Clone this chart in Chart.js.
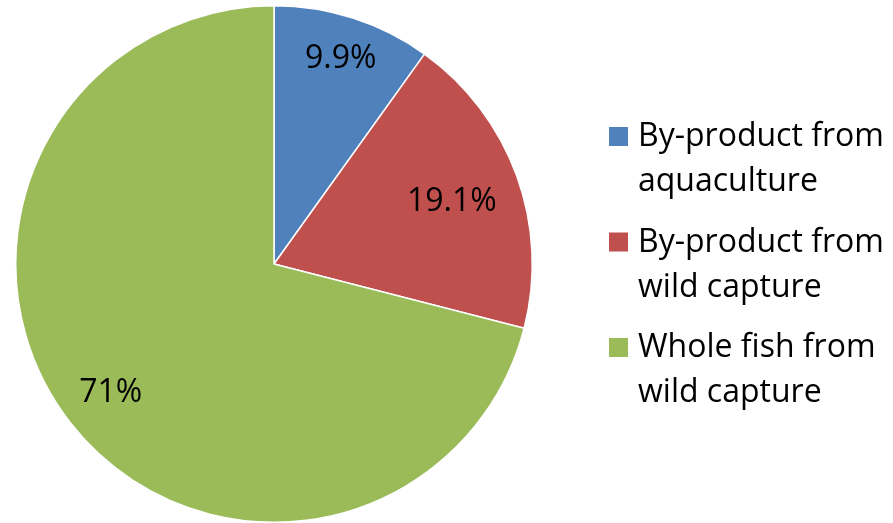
<!DOCTYPE html>
<html>
<head>
<meta charset="utf-8">
<script src="https://cdn.jsdelivr.net/npm/chart.js@4.4.1/dist/chart.umd.min.js"></script>
<style>
  html, body { margin: 0; padding: 0; background: #ffffff; }
  #wrap { width: 893px; height: 523px; }
</style>
</head>
<body>
<div id="wrap"><canvas id="c" width="893" height="523"></canvas></div>
<script>
// ---- data ----
const categories = [
  ["By-product from", "aquaculture"],
  ["By-product from", "wild capture"],
  ["Whole fish from", "wild capture"]
];
const shares = [9.9, 19.1, 71];
const valueLabels = ["9.9%", "19.1%", "71%"];

// ---- styles ----
const sliceColors = ["#4F81BD", "#C0504D", "#9BBB59"];
const FONT = "'Open Sans', 'DejaVu Sans', sans-serif";

const sliceLabelPlugin = {
  id: "sliceLabels",
  afterDatasetsDraw(chart, args, opts) {
    const ctx = chart.ctx;
    const meta = chart.getDatasetMeta(0);
    ctx.save();
    ctx.font = opts.size + "px " + FONT;
    ctx.fillStyle = "#000000";
    ctx.textAlign = "center";
    ctx.textBaseline = "alphabetic";
    meta.data.forEach((arc, i) => {
      const p = arc.getProps(["x", "y", "startAngle", "endAngle", "outerRadius"], true);
      const mid = (p.startAngle + p.endAngle) / 2;
      const r = p.outerRadius * opts.radiusFraction[i];
      const x = p.x + Math.cos(mid) * r;
      const y = p.y + Math.sin(mid) * r;
      ctx.fillText(valueLabels[i], x, y + opts.size * 0.36);
    });
    ctx.restore();
  }
};

const sideLegendPlugin = {
  id: "sideLegend",
  afterDraw(chart, args, opts) {
    const ctx = chart.ctx;
    const labels = chart.data.labels;
    const colors = chart.data.datasets[0].backgroundColor;
    ctx.save();
    ctx.font = opts.size + "px " + FONT;
    ctx.textAlign = "left";
    ctx.textBaseline = "alphabetic";
    labels.forEach((lines, i) => {
      const base = opts.top + i * opts.itemGap;
      ctx.fillStyle = colors[i];
      ctx.fillRect(opts.x, base - opts.box, opts.box, opts.box);
      ctx.fillStyle = "#000000";
      lines.forEach((line, j) => {
        ctx.fillText(line, opts.textX, base + j * opts.lineHeight);
      });
    });
    ctx.restore();
  }
};

new Chart(document.getElementById("c"), {
  type: "pie",
  data: {
    labels: categories,
    datasets: [{
      data: shares,
      backgroundColor: sliceColors,
      borderColor: "#ffffff",
      borderWidth: 1.5
    }]
  },
  options: {
    responsive: false,
    animation: false,
    layout: { padding: { left: 15, top: 5, right: 360, bottom: 0 } },
    plugins: {
      legend: { display: false },
      tooltip: { enabled: false },
      sliceLabels: { size: 32, radiusFraction: [0.845, 0.733, 0.80] },
      sideLegend: { x: 609, textX: 638, top: 146, itemGap: 105.5, lineHeight: 45, box: 19, size: 32 }
    }
  },
  plugins: [sliceLabelPlugin, sideLegendPlugin]
});
</script>
</body>
</html>
